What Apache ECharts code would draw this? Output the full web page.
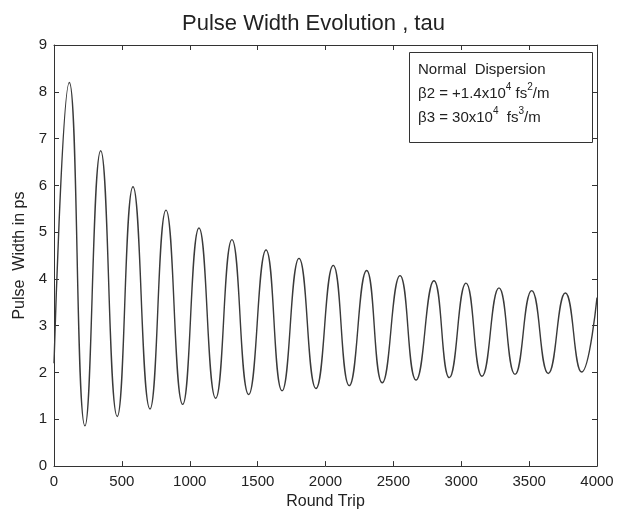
<!DOCTYPE html>
<html>
<head>
<meta charset="utf-8">
<script src="https://cdn.jsdelivr.net/npm/echarts@6/dist/echarts.min.js"></script>
<style>html,body{margin:0;padding:0;background:#fff}#c{width:627px;height:515px}</style>
</head>
<body>
<div id="c"></div>
<script>
// Round trip positions of the curve's turning points
const roundTrip = [0, 113, 228, 344, 466, 582, 707, 825, 948, 1068, 1191, 1311, 1434, 1562, 1680, 1805,
  1930, 2057, 2175, 2303, 2418, 2549, 2667, 2799, 2912, 3035, 3153, 3278, 3396, 3519, 3641, 3767, 3887, 4000];
// Pulse width (ps) at those positions
const tau = [2.2, 8.20, 0.86, 6.74, 1.06, 5.97, 1.22, 5.47, 1.32, 5.09, 1.45, 4.84, 1.53, 4.62, 1.61, 4.44,
  1.66, 4.29, 1.72, 4.18, 1.78, 4.07, 1.84, 3.96, 1.89, 3.91, 1.92, 3.81, 1.96, 3.75, 1.98, 3.70, 2.01, 3.60];
const xTicks = [0, 500, 1000, 1500, 2000, 2500, 3000, 3500, 4000];
const yTicks = [0, 1, 2, 3, 4, 5, 6, 7, 8, 9];

const data = roundTrip.map((x, i) => [x, tau[i]]);
const font = 'Liberation Sans, Arial, sans-serif';
const axisCol = '#333';
const txtCol = '#222';

const tickCommon = { inside: true, length: 5, lineStyle: { color: axisCol } };
const lineCommon = { show: true, onZero: false, lineStyle: { color: axisCol, width: 1 } };

const chart = echarts.init(document.getElementById('c'));
chart.setOption({
  backgroundColor: '#fff',
  animation: false,
  title: {
    text: 'Pulse Width Evolution , tau',
    left: 'center', top: 8,
    textStyle: { fontFamily: font, fontSize: 22, fontWeight: 'normal', color: txtCol }
  },
  grid: { left: 54, right: 30, top: 45, bottom: 47 },
  xAxis: [{
    type: 'value', min: xTicks[0], max: xTicks[xTicks.length - 1], interval: xTicks[1] - xTicks[0],
    name: 'Round Trip', nameLocation: 'middle', nameGap: 25,
    nameTextStyle: { fontFamily: font, fontSize: 16, color: txtCol },
    axisLine: lineCommon,
    axisTick: tickCommon,
    axisLabel: { fontFamily: font, fontSize: 15, color: txtCol, margin: 8, formatter: v => String(v) },
    splitLine: { show: false }
  }, {
    type: 'value', min: xTicks[0], max: xTicks[xTicks.length - 1], interval: xTicks[1] - xTicks[0], position: 'top',
    axisLine: lineCommon,
    axisTick: tickCommon,
    axisLabel: { show: false }, splitLine: { show: false }
  }],
  yAxis: [{
    type: 'value', min: yTicks[0], max: yTicks[yTicks.length - 1], interval: 1,
    name: 'Pulse  Width in ps', nameLocation: 'middle', nameGap: 24,
    nameTextStyle: { fontFamily: font, fontSize: 16, color: txtCol },
    axisLine: lineCommon,
    axisTick: Object.assign({ show: true }, tickCommon),
    axisLabel: { fontFamily: font, fontSize: 15, color: txtCol, margin: 7 },
    splitLine: { show: false }
  }, {
    type: 'value', min: yTicks[0], max: yTicks[yTicks.length - 1], interval: 1, position: 'right',
    axisLine: lineCommon,
    axisTick: Object.assign({ show: true }, tickCommon),
    axisLabel: { show: false }, splitLine: { show: false }
  }],
  series: [{
    type: 'line', data: data, showSymbol: false, smooth: 0.5,
    lineStyle: { color: '#3a3a3a', width: 1.4 }
  }],
  graphic: [{
    type: 'rect', left: 409, top: 52,
    shape: { width: 183, height: 90 },
    style: { fill: '#fff', stroke: '#333', lineWidth: 1 }
  }, {
    type: 'text', left: 418, top: 58,
    style: {
      text: '{n|Normal  Dispersion}\n{n|β2 = +1.4x10}{s|4}{n| fs}{s|2}{n|/m}\n{n|β3 = 30x10}{s|4}{n|  fs}{s|3}{n|/m}',
      lineHeight: 24,
      rich: {
        n: { fontFamily: font, fontSize: 15, fill: txtCol, lineHeight: 24 },
        s: { fontFamily: font, fontSize: 10, fill: txtCol, verticalAlign: 'top', lineHeight: 24, padding: [0, 0, 9, 0] }
      }
    }
  }]
});
</script>
</body>
</html>
